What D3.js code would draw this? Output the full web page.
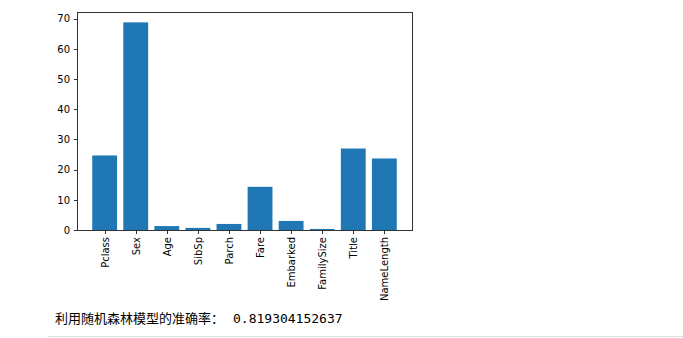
<!DOCTYPE html>
<html>
<head>
<meta charset="utf-8">
<script src="https://cdn.jsdelivr.net/npm/d3@7"></script>
<style>
  body { margin: 0; background: #fff; }
  svg { display: block; }
  .axis text { font-family: "DejaVu Sans", sans-serif; font-size: 10px; fill: #000; }
  .axis line { stroke: #000; stroke-width: 0.8; shape-rendering: crispEdges; }
  .axis path.domain { display: none; }
</style>
</head>
<body>
<svg id="chart" width="683" height="338"></svg>
<script>
const features = ['Pclass', 'Sex', 'Age', 'SibSp', 'Parch', 'Fare', 'Embarked', 'FamilySize', 'Title', 'NameLength'];
const importance = [24.7, 68.8, 1.3, 0.7, 2.0, 14.3, 3.0, 0.35, 27.0, 23.7];
const yTicks = [0, 10, 20, 30, 40, 50, 60, 70];
const accuracyLabel = '利用随机森林模型的准确率：';
const accuracyValue = '0.819304152637';

const svg = d3.select('#chart');

// plot frame, matplotlib-like
const frame = { left: 77, right: 412, top: 12, bottom: 230 };
const barWidth = 0.8;

// bars span [-0.4, n-0.6], plus a 5% margin on both sides
const xLo = -barWidth / 2, xHi = features.length - 1 + barWidth / 2;
const xPad = (xHi - xLo) * 0.05;
const x = d3.scaleLinear()
  .domain([xLo - xPad, xHi + xPad])
  .range([frame.left, frame.right]);

const y = d3.scaleLinear()
  .domain([0, d3.max(importance) * 1.05])
  .range([frame.bottom, frame.top]);

// bars
svg.append('g')
  .selectAll('rect')
  .data(importance)
  .enter().append('rect')
  .attr('x', (d, i) => x(i - barWidth / 2))
  .attr('width', (d, i) => x(i + barWidth / 2) - x(i - barWidth / 2))
  .attr('y', d => y(d))
  .attr('height', d => y(0) - y(d))
  .attr('fill', '#1f77b4');

// y axis
svg.append('g')
  .attr('class', 'axis y')
  .attr('transform', 'translate(' + frame.left + ',0)')
  .call(d3.axisLeft(y).tickValues(yTicks).tickSize(3.5).tickPadding(3.5).tickFormat(d3.format('d')));

// x axis, labels rotated
const xAxis = svg.append('g')
  .attr('class', 'axis x')
  .attr('transform', 'translate(0,' + frame.bottom + ')')
  .call(d3.axisBottom(x).tickValues(d3.range(features.length)).tickSize(3.5).tickPadding(0).tickFormat((d, i) => features[i]));

xAxis.selectAll('text')
  .attr('transform', 'rotate(-90)')
  .attr('x', -7)
  .attr('y', 0)
  .attr('dy', '0.35em')
  .style('text-anchor', 'end');

// frame
svg.append('rect')
  .attr('x', frame.left)
  .attr('y', frame.top)
  .attr('width', frame.right - frame.left)
  .attr('height', frame.bottom - frame.top)
  .attr('fill', 'none')
  .attr('stroke', '#000')
  .attr('stroke-width', 0.8)
  .attr('shape-rendering', 'crispEdges');

// printed output below the chart
svg.append('text')
  .attr('x', 55)
  .attr('y', 323)
  .attr('font-family', '"Noto Sans CJK SC", sans-serif')
  .attr('font-size', '13px')
  .attr('fill', '#000')
  .text(accuracyLabel);

svg.append('text')
  .attr('x', 233)
  .attr('y', 323)
  .attr('font-family', '"DejaVu Sans Mono", monospace')
  .attr('font-size', '13px')
  .attr('fill', '#000')
  .text(accuracyValue);

svg.append('line')
  .attr('x1', 48)
  .attr('x2', 683)
  .attr('y1', 336.5)
  .attr('y2', 336.5)
  .attr('stroke', '#e0e0e0')
  .attr('stroke-width', 1);
</script>
</body>
</html>
